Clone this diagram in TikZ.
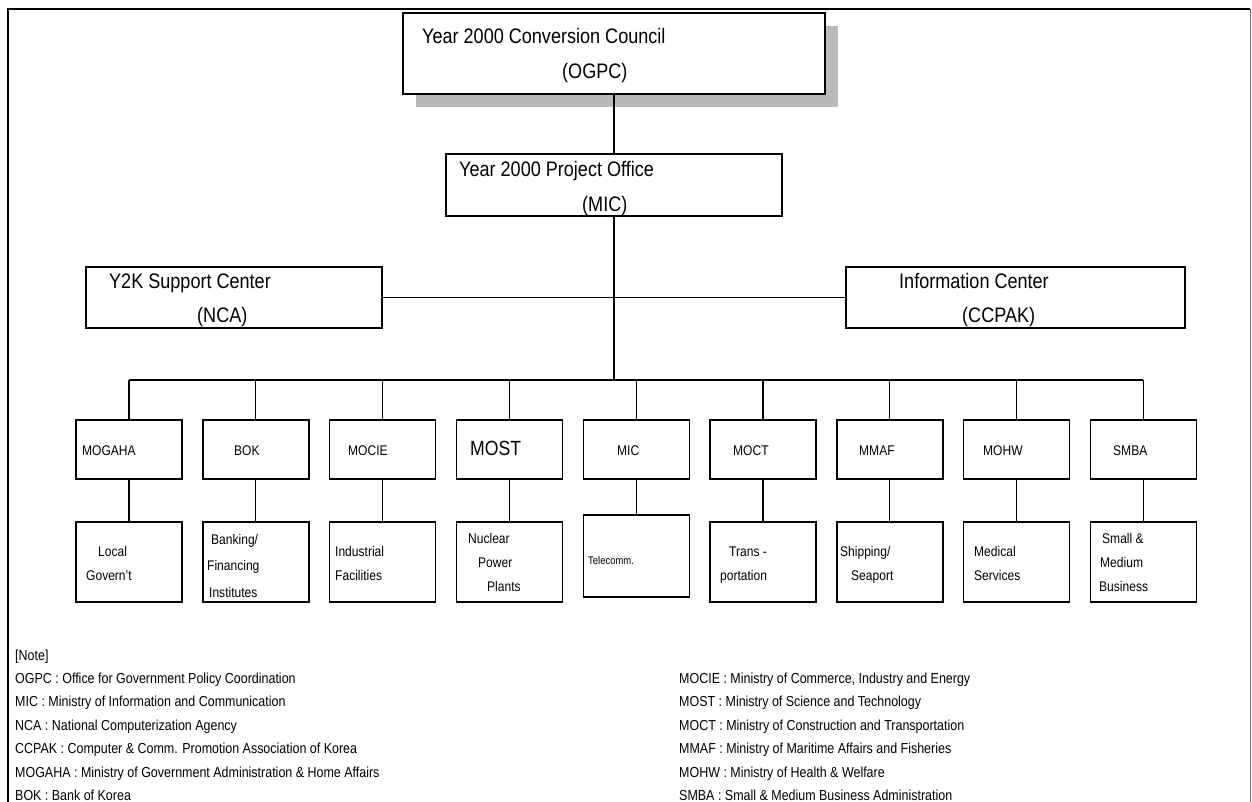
\documentclass[tikz,border=0pt]{standalone}
\usepackage{fontspec}
\setmainfont{Liberation Sans}[FakeStretch=0.86]
\usetikzlibrary{positioning}

\tikzset{
  box/.style={draw, fill=white, line width=1.4pt, inner sep=0pt, outer sep=0pt},
  conn/.style={line width=1.2pt},
  title/.style={anchor=base west, inner sep=0pt, font=\fontsize{21}{24}\selectfont},
  lbl/.style={anchor=base west, inner sep=0pt, font=\fontsize{14}{16}\selectfont},
  note/.style={anchor=base west, inner sep=0pt, font=\fontsize{14.5}{17}\selectfont}
}

\begin{document}
\begin{tikzpicture}[x=1pt,y=-1pt]
\useasboundingbox (0,0) rectangle (1252,802);
%frame
\draw[line width=1.6pt] (8,802) -- (8,9) -- (1250,9);
\draw[line width=0.9pt, black!55] (1250,9) -- (1250,802);
%council
\fill[black!27] (416,26) rectangle (838,107);
\node[box, minimum width=422pt, minimum height=81pt] (ogpc) at (614,53.5) {};
\node[title] (ogpc-t1) at (422,43.5) {Year 2000 Conversion Council};
\node[title] (ogpc-t2) at (562,78.5) {(OGPC)};
%project office
\node[box, minimum width=336pt, minimum height=62pt] (office) at (614,185) {};
\node[title] (office-t1) at (459,176.5) {Year 2000 Project Office};
\node[title] (office-t2) at (582,211.5) {(MIC)};
%support centers
\node[box, minimum width=296pt, minimum height=61pt] (nca) at (234,297.5) {};
\node[title] (nca-t1) at (109,288.5) {Y2K Support Center};
\node[title] (nca-t2) at (197,322.5) {(NCA)};
\node[box, minimum width=339pt, minimum height=61pt] (ccpak) at (1015.5,297.5) {};
\node[title] (ccpak-t1) at (899,288.5) {Information Center};
\node[title] (ccpak-t2) at (962,322.5) {(CCPAK)};

\coordinate (bus) at (614,380);
\draw[conn] (ogpc.south) -- (office.north);
\draw[conn] (office.south) -- (bus);
\draw[conn] (nca.east) -- (ccpak.west);

%ministries
\foreach \nm/\lx/\txt [count=\i from 0] in {mogaha/82/MOGAHA, bok/234/BOK, mocie/348/MOCIE,
    most/470/{\fontsize{20.5}{22}\selectfont MOST}, mic/617/MIC, moct/733/MOCT,
    mmaf/859/MMAF, mohw/983/MOHW, smba/1113/SMBA}{
  \node[box, minimum width=106pt, minimum height=59pt] (\nm) at (129+126.8*\i, 449.5) {};
  \node[lbl] (\nm-t) at (\lx, 455) {\txt};
  \draw[conn] (\nm.north) -- (\nm.north |- bus);
}
\draw[conn] (mogaha.north |- bus) -- (smba.north |- bus);

%sectors
\foreach \nm/\cy/\ht [count=\i from 0] in {mogaha/562/80, bok/562/80, mocie/562/80, most/562/80,
    mic/556/82, moct/562/80, mmaf/562/80, mohw/562/80, smba/562/80}{
  \node[box, minimum width=106pt, minimum height=\ht pt] (\nm-s) at (129+126.8*\i, \cy) {};
  \draw[conn] (\nm.south) -- (\nm-s.north);
}
\foreach \nm/\x/\y/\txt in {local/98/556/Local, govern/86/580/Govern't,
    bank/211/544/{Banking/}, fin/207/570/Financing, inst/209/597/Institutes,
    ind/335/556/Industrial, fac/335/580/Facilities,
    nuc/468/543/Nuclear, pow/478/567/Power, plant/487/591/Plants,
    trans/729/556/Trans -, portn/720/580/portation,
    ship/840/556/{Shipping/}, sea/851/580/Seaport,
    med/974/556/Medical, serv/974/580/Services,
    small/1102/543/Small \&, medium/1100/567/Medium, busi/1099/591/Business}{
  \node[lbl] (\nm) at (\x,\y) {\txt};
}
\node[lbl, font=\fontsize{11}{13}\selectfont] (tele) at (588,564) {Telecomm.};

%notes
\foreach \txt [count=\k from 0] in {[Note], OGPC : Office for Government Policy Coordination,
    MIC : Ministry of Information and Communication, NCA : National Computerization Agency,
    CCPAK : Computer \& Comm. Promotion Association of Korea,
    MOGAHA : Ministry of Government Administration \& Home Affairs, BOK : Bank of Korea}{
  \node[note] (nl\k) at (15, 660+23.4*\k) {\txt};
}
\foreach \txt [count=\k from 1] in {{MOCIE : Ministry of Commerce, Industry and Energy},
    MOST : Ministry of Science and Technology, MOCT : Ministry of Construction and Transportation,
    MMAF : Ministry of Maritime Affairs and Fisheries, MOHW : Ministry of Health \& Welfare,
    SMBA : Small \& Medium Business Administration}{
  \node[note] (nr\k) at (679, 660+23.4*\k) {\txt};
}
\end{tikzpicture}
\end{document}
